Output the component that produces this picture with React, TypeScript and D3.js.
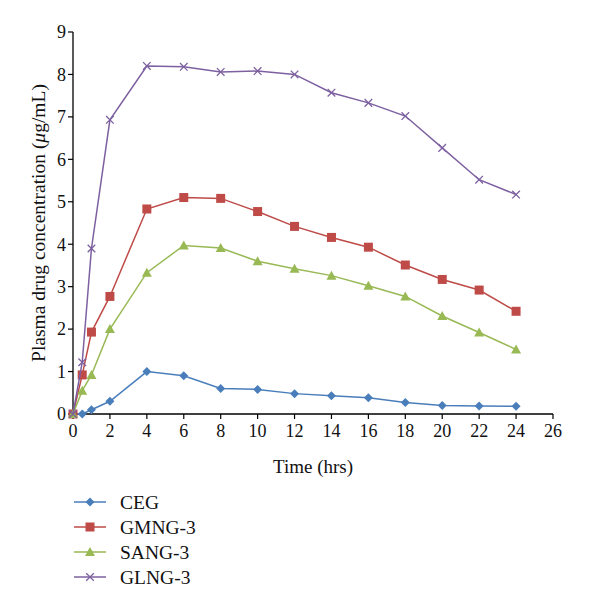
import React from "react";
import * as d3 from "d3";

const times = [0, 0.5, 1, 2, 4, 6, 8, 10, 12, 14, 16, 18, 20, 22, 24];
const ceg = [0, 0, 0.1, 0.3, 1.0, 0.9, 0.6, 0.58, 0.48, 0.43, 0.38, 0.27, 0.2, 0.19, 0.18];
const gmng = [0, 0.92, 1.93, 2.77, 4.83, 5.1, 5.08, 4.77, 4.42, 4.16, 3.93, 3.51, 3.17, 2.92, 2.42];
const sang = [0, 0.55, 0.92, 2.0, 3.33, 3.97, 3.91, 3.6, 3.42, 3.26, 3.02, 2.77, 2.31, 1.92, 1.52];
const glng = [0, 1.22, 3.9, 6.93, 8.2, 8.18, 8.06, 8.08, 8.0, 7.57, 7.33, 7.02, 6.27, 5.52, 5.17];
const seriesNames = ["CEG", "GMNG-3", "SANG-3", "GLNG-3"];
const xTicks = d3.range(0, 27, 2);
const yTicks = d3.range(0, 10, 1);

const colors = ["#4A7EBB", "#BE4B48", "#98B954", "#7D60A0"];
const markers = ["diamond", "square", "triangle", "x"];
const FONT = "'Liberation Serif', 'Times New Roman', serif";

function Marker({ type, x, y, color }: { type: string; x: number; y: number; color: string }) {
  if (type === "diamond") {
    const s = 4.5;
    return <path d={`M${x},${y - s}L${x + s},${y}L${x},${y + s}L${x - s},${y}Z`} fill={color} />;
  }
  if (type === "square") {
    const s = 4.5;
    return <rect x={x - s} y={y - s} width={2 * s} height={2 * s} fill={color} />;
  }
  if (type === "triangle") {
    const s = 5;
    return <path d={`M${x},${y - s}L${x + s},${y + s * 0.8}L${x - s},${y + s * 0.8}Z`} fill={color} />;
  }
  const s = 3.8;
  return (
    <path
      d={`M${x - s},${y - s}L${x + s},${y + s}M${x - s},${y + s}L${x + s},${y - s}`}
      stroke={color}
      strokeWidth={1.3}
      fill="none"
    />
  );
}

export default function App() {
  const width = 600;
  const height = 611;
  const x = d3.scaleLinear().domain([0, 26]).range([73, 553]);
  const y = d3.scaleLinear().domain([0, 9]).range([414, 32]);
  const data = [ceg, gmng, sang, glng];
  const line = d3
    .line<number>()
    .x((_, i) => x(times[i]))
    .y((d) => y(d));

  return (
    <svg
      width={width}
      height={height}
      style={{ position: "absolute", left: 0, top: 0, background: "#fff" }}
      fontFamily={FONT}
      fill="#111"
    >
      <rect width={width} height={height} fill="#fff" />
      <line x1={x(0)} x2={x(0)} y1={y(0)} y2={y(9)} stroke="#000" strokeWidth={1.3} />
      <line x1={x(0)} x2={x(26)} y1={y(0)} y2={y(0)} stroke="#000" strokeWidth={1.3} />
      {yTicks.map((t) => (
        <g key={"y" + t}>
          <line x1={x(0) - 5} x2={x(0)} y1={y(t)} y2={y(t)} stroke="#000" strokeWidth={1.2} />
          <text x={x(0) - 7} y={y(t)} dy="0.35em" textAnchor="end" fontSize={18}>
            {t}
          </text>
        </g>
      ))}
      {xTicks.map((t) => (
        <g key={"x" + t}>
          <line x1={x(t)} x2={x(t)} y1={y(0)} y2={y(0) + 5} stroke="#000" strokeWidth={1.2} />
          <text x={x(t)} y={y(0) + 23} textAnchor="middle" fontSize={18}>
            {t}
          </text>
        </g>
      ))}
      <text x={313} y={473} textAnchor="middle" fontSize={19}>
        Time (hrs)
      </text>
      <text
        transform={`translate(45, ${y(4.5)}) rotate(-90)`}
        textAnchor="middle"
        fontSize={19.5}
      >
        Plasma drug concentration (<tspan fontStyle="italic">μ</tspan>g/mL)
      </text>
      {data.map((vals, si) => (
        <g key={"s" + si}>
          <path d={line(vals) || ""} fill="none" stroke={colors[si]} strokeWidth={1.5} />
          {vals.map((v, i) => (
            <Marker key={i} type={markers[si]} x={x(times[i])} y={y(v)} color={colors[si]} />
          ))}
        </g>
      ))}
      {seriesNames.map((name, i) => {
        const ly = 502 + i * 25;
        return (
          <g key={"l" + name}>
            <line x1={74} x2={106} y1={ly} y2={ly} stroke={colors[i]} strokeWidth={1.5} />
            <Marker type={markers[i]} x={90} y={ly} color={colors[i]} />
            <text x={120} y={ly} dy="0.35em" fontSize={19.5}>
              {name}
            </text>
          </g>
        );
      })}
    </svg>
  );
}
